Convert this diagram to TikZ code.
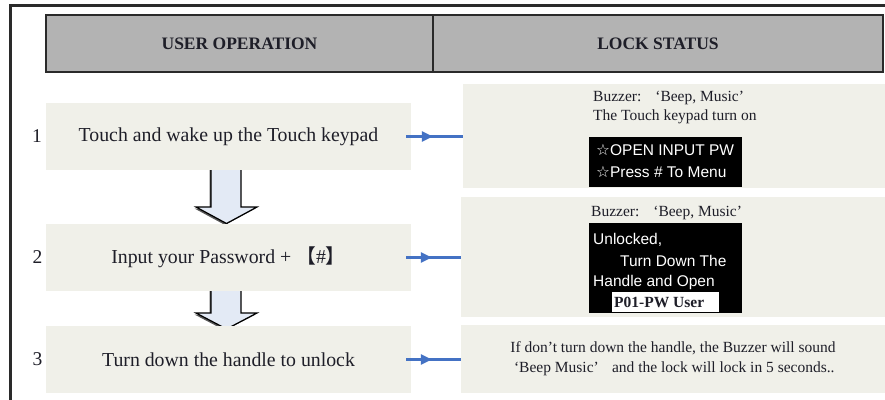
\documentclass[tikz,border=0pt]{standalone}
\usepackage{fontspec}
\setmainfont{Liberation Serif}
\setsansfont{Liberation Sans}
\newfontfamily\dejavu{DejaVu Sans}
\newfontfamily\cjk{Noto Sans CJK SC}
\usetikzlibrary{arrows.meta,decorations.markings}
\definecolor{hdrgray}{HTML}{B3B3B3}
\definecolor{hdrline}{HTML}{2A2A2A}
\definecolor{boxfill}{HTML}{F0F0E9}
\definecolor{arrowfill}{HTML}{E3EAF5}
\definecolor{linkblue}{HTML}{4472C4}
\definecolor{ink}{HTML}{1E1E28}
\tikzset{
  hdr/.style={draw=hdrline, line width=1.6pt, fill=hdrgray, inner sep=0pt, outer sep=0pt,
    anchor=north west, minimum height=57pt, font=\fontsize{17.5}{20}\selectfont\bfseries, text=ink},
  lbox/.style={fill=boxfill, inner sep=0pt, outer sep=0pt, anchor=north west,
    minimum width=365pt, minimum height=67pt, font=\fontsize{19.8}{22}\selectfont, text=ink},
  rbox/.style={fill=boxfill, inner sep=0pt, outer sep=0pt, anchor=north west},
  num/.style={inner sep=0pt, font=\fontsize{19.5}{22}\selectfont, text=ink},
  rtext/.style={inner sep=0pt, anchor=west, font=\fontsize{15.5}{18}\selectfont, text=ink},
  lcd/.style={fill=black, inner sep=0pt, outer sep=0pt, anchor=north west},
  lcdtext/.style={inner sep=0pt, anchor=west, text=white, font=\sffamily\fontsize{15.5}{18}\selectfont},
  downarrow/.style={fill=arrowfill, draw=black, line width=1.2pt, line join=miter},
  downshadow/.style={fill=black!65},
  link/.style={draw=linkblue, line width=2.4pt, postaction={decorate},
    decoration={markings, mark=at position 0.47 with {\arrow{Triangle[length=11pt,width=10pt]}}}}
}
\begin{document}
\begin{tikzpicture}[x=1pt,y=-1pt]
\useasboundingbox (0,0) rectangle (885,399);
\fill[white] (0,0) rectangle (885,399);
% outer frame
\draw[line width=2.5pt, hdrline] (10.5,400) -- (10.5,5.5) -- (886,5.5);
% header
\node[hdr, minimum width=387pt] (h1) at (46,15) {USER OPERATION};
\node[hdr, minimum width=450pt] (h2) at (433,15) {LOCK STATUS};
% down arrows (behind boxes)
\fill[downshadow, shift={(-1.5,1.5)}] (211,165) -- (241,165) -- (241,207) -- (257,207) -- (226.5,223.5) -- (196,207) -- (211,207) -- cycle;
\draw[downarrow] (211,165) -- (241,165) -- (241,207) -- (257,207) -- (226.5,223.5) -- (196,207) -- (211,207) -- cycle;
\fill[downshadow, shift={(-1.5,1.5)}] (211,286) -- (241,286) -- (241,313) -- (257,313) -- (226.5,329) -- (196,313) -- (211,313) -- cycle;
\draw[downarrow] (211,286) -- (241,286) -- (241,313) -- (257,313) -- (226.5,329) -- (196,313) -- (211,313) -- cycle;
% left boxes
\node[lbox] (l1) at (46,103) {Touch and wake up the Touch keypad};
\node[lbox] (l2) at (46,224) {Input your Password + {\cjk 【}\#{\cjk 】}};
\node[lbox] (l3) at (46,326) {Turn down the handle to unlock};
% numbers
\node[num] (n1) at (37,136) {1};
\node[num] (n2) at (37.5,257) {2};
\node[num] (n3) at (37.5,359) {3};
% right boxes
\node[rbox, minimum width=422pt, minimum height=104pt] (r1) at (463,84) {};
\node[rbox, minimum width=424pt, minimum height=120pt] (r2) at (461,197) {};
\node[rbox, minimum width=424pt, minimum height=68pt, align=center,
      font=\fontsize{15.5}{20}\selectfont, text=ink] (r3) at (461,325)
  {If don't turn down the handle, the Buzzer will sound\\
   \,‘Beep Music’\hspace{0.6em} and the lock will lock in 5 seconds..};
% row 1 status
\node[rtext] (b1a) at (593,98) {Buzzer:\hspace{0.9em}‘Beep, Music’};
\node[rtext] (b1b) at (593,117) {The Touch keypad turn on};
\node[lcd, minimum width=153pt, minimum height=50pt] (d1) at (589,137) {};
\node[lcdtext] (d1a) at (596,150) {{\dejavu ☆}OPEN INPUT PW};
\node[lcdtext] (d1b) at (596,172) {{\dejavu ☆}Press \# To Menu};
% row 2 status
\node[rtext] (b2a) at (591,213) {Buzzer:\hspace{0.9em}‘Beep, Music’};
\node[lcd, minimum width=153pt, minimum height=90pt] (d2) at (589,223) {};
\node[lcdtext] (d2a) at (593,240) {Unlocked,};
\node[lcdtext] (d2b) at (620,260.5) {Turn Down The};
\node[lcdtext] (d2c) at (593,282) {Handle and Open};
\node[fill=white, inner sep=0pt, anchor=north west, minimum width=107pt, minimum height=20pt] (w2) at (612,292) {};
\node[inner sep=0pt, anchor=west, text=ink, font=\fontsize{15.5}{18}\selectfont\bfseries] (p2) at (614,302) {P01-PW User};
% connectors
\draw[link] ([xshift=-5pt]l1.east) -- (l1.east -| r1.west);
\draw[link] ([xshift=-5pt]l2.east) -- (l2.east -| r2.west);
\draw[link] ([xshift=-5pt]l3.east) -- (l3.east -| r3.west);
\end{tikzpicture}
\end{document}
